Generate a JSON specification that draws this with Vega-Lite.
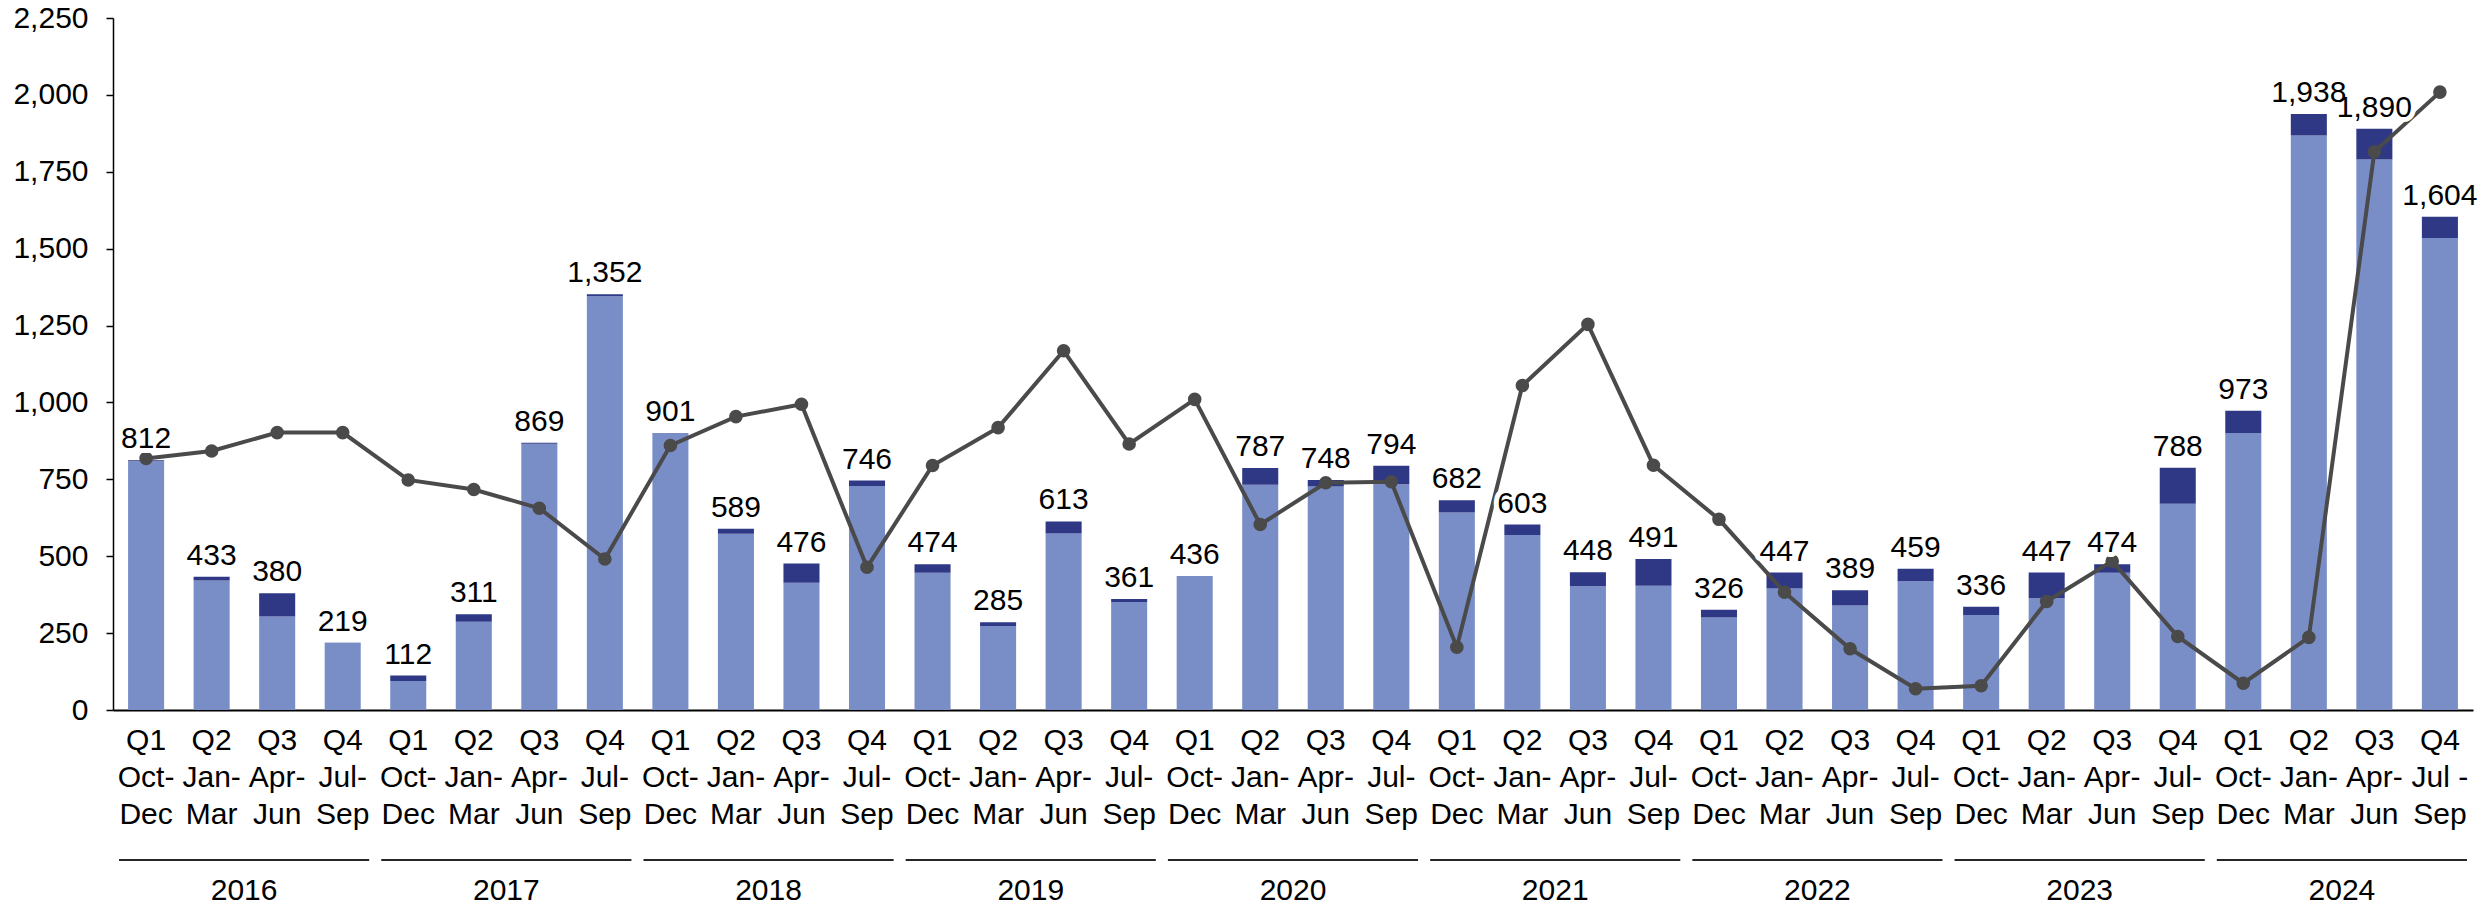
{
  "$schema": "https://vega.github.io/schema/vega-lite/v6.json",
  "padding": {"left": 12, "top": 3, "right": 5, "bottom": 0},
  "background": "white",
  "config": {"view": {"stroke": null}, "font": "Liberation Sans", "text": {"font": "Liberation Sans"}},
  "spacing": 30,
  "data": {"values": [
    {"p": "2016|Q1|Oct-|Dec", "year": "2016", "light": 809, "dark": 3, "total": 812, "line": 818},
    {"p": "2016|Q2|Jan-|Mar", "year": "2016", "light": 421, "dark": 12, "total": 433, "line": 842},
    {"p": "2016|Q3|Apr-|Jun", "year": "2016", "light": 304, "dark": 76, "total": 380, "line": 902},
    {"p": "2016|Q4|Jul-|Sep", "year": "2016", "light": 218, "dark": 1, "total": 219, "line": 902},
    {"p": "2017|Q1|Oct-|Dec", "year": "2017", "light": 94, "dark": 18, "total": 112, "line": 748},
    {"p": "2017|Q2|Jan-|Mar", "year": "2017", "light": 287, "dark": 24, "total": 311, "line": 717},
    {"p": "2017|Q3|Apr-|Jun", "year": "2017", "light": 866, "dark": 3, "total": 869, "line": 656},
    {"p": "2017|Q4|Jul-|Sep", "year": "2017", "light": 1345, "dark": 7, "total": 1352, "line": 491},
    {"p": "2018|Q1|Oct-|Dec", "year": "2018", "light": 900, "dark": 1, "total": 901, "line": 860},
    {"p": "2018|Q2|Jan-|Mar", "year": "2018", "light": 573, "dark": 16, "total": 589, "line": 954},
    {"p": "2018|Q3|Apr-|Jun", "year": "2018", "light": 414, "dark": 62, "total": 476, "line": 994},
    {"p": "2018|Q4|Jul-|Sep", "year": "2018", "light": 728, "dark": 18, "total": 746, "line": 464},
    {"p": "2019|Q1|Oct-|Dec", "year": "2019", "light": 446, "dark": 28, "total": 474, "line": 795},
    {"p": "2019|Q2|Jan-|Mar", "year": "2019", "light": 273, "dark": 12, "total": 285, "line": 918},
    {"p": "2019|Q3|Apr-|Jun", "year": "2019", "light": 574, "dark": 39, "total": 613, "line": 1168},
    {"p": "2019|Q4|Jul-|Sep", "year": "2019", "light": 351, "dark": 10, "total": 361, "line": 865},
    {"p": "2020|Q1|Oct-|Dec", "year": "2020", "light": 436, "dark": 0, "total": 436, "line": 1010},
    {"p": "2020|Q2|Jan-|Mar", "year": "2020", "light": 732, "dark": 55, "total": 787, "line": 603},
    {"p": "2020|Q3|Apr-|Jun", "year": "2020", "light": 727, "dark": 21, "total": 748, "line": 739},
    {"p": "2020|Q4|Jul-|Sep", "year": "2020", "light": 734, "dark": 60, "total": 794, "line": 742},
    {"p": "2021|Q1|Oct-|Dec", "year": "2021", "light": 642, "dark": 40, "total": 682, "line": 204},
    {"p": "2021|Q2|Jan-|Mar", "year": "2021", "light": 569, "dark": 34, "total": 603, "line": 1055},
    {"p": "2021|Q3|Apr-|Jun", "year": "2021", "light": 402, "dark": 46, "total": 448, "line": 1254},
    {"p": "2021|Q4|Jul-|Sep", "year": "2021", "light": 404, "dark": 87, "total": 491, "line": 796},
    {"p": "2022|Q1|Oct-|Dec", "year": "2022", "light": 301, "dark": 25, "total": 326, "line": 620},
    {"p": "2022|Q2|Jan-|Mar", "year": "2022", "light": 395, "dark": 52, "total": 447, "line": 383},
    {"p": "2022|Q3|Apr-|Jun", "year": "2022", "light": 340, "dark": 49, "total": 389, "line": 199},
    {"p": "2022|Q4|Jul-|Sep", "year": "2022", "light": 419, "dark": 40, "total": 459, "line": 69},
    {"p": "2023|Q1|Oct-|Dec", "year": "2023", "light": 309, "dark": 27, "total": 336, "line": 79},
    {"p": "2023|Q2|Jan-|Mar", "year": "2023", "light": 363, "dark": 84, "total": 447, "line": 353},
    {"p": "2023|Q3|Apr-|Jun", "year": "2023", "light": 446, "dark": 28, "total": 474, "line": 484},
    {"p": "2023|Q4|Jul-|Sep", "year": "2023", "light": 671, "dark": 117, "total": 788, "line": 239},
    {"p": "2024|Q1|Oct-|Dec", "year": "2024", "light": 901, "dark": 72, "total": 973, "line": 87},
    {"p": "2024|Q2|Jan-|Mar", "year": "2024", "light": 1868, "dark": 70, "total": 1938, "line": 236},
    {"p": "2024|Q3|Apr-|Jun", "year": "2024", "light": 1790, "dark": 100, "total": 1890, "line": 1815},
    {"p": "2024|Q4|Jul -|Sep", "year": "2024", "light": 1535, "dark": 69, "total": 1604, "line": 2009}
  ]},
  "vconcat": [
    {
      "width": 2360,
      "height": 692,
      "encoding": {
        "x": {
          "field": "p", "type": "nominal", "sort": null,
          "scale": {"paddingInner": 0.45, "paddingOuter": 0.23},
          "axis": {
            "title": null, "labelAngle": 0, "ticks": false,
            "domainColor": "#000000", "domainWidth": 2,
            "labelFontSize": 30, "labelLineHeight": 37, "labelPadding": 15,
            "labelColor": "#000000", "labelBaseline": "top",
            "labelExpr": "slice(split(datum.value, '|'), 1)"
          }
        }
      },
      "layer": [
        {
          "transform": [{"fold": ["light", "dark"], "as": ["k", "v"]}],
          "mark": {"type": "bar"},
          "encoding": {
            "y": {
              "field": "v", "type": "quantitative", "stack": "zero",
              "scale": {"domain": [0, 2250], "nice": false},
              "axis": {
                "title": null, "grid": false, "values": [0, 250, 500, 750, 1000, 1250, 1500, 1750, 2000, 2250],
                "format": ",.0f", "domainColor": "#000000", "domainWidth": 1.5,
                "tickColor": "#000000", "tickSize": 7, "tickWidth": 1.5,
                "labelFontSize": 30, "labelPadding": 18, "labelColor": "#000000"
              }
            },
            "color": {
              "field": "k", "type": "nominal",
              "scale": {"domain": ["light", "dark"], "range": ["#798dc7", "#2e3885"]},
              "legend": null
            },
            "order": {"field": "k", "sort": "descending"}
          }
        },
        {
          "mark": {"type": "line", "color": "#4a4a4a", "strokeWidth": 4},
          "encoding": {"y": {"field": "line", "type": "quantitative"}}
        },
        {
          "mark": {"type": "point", "filled": true, "color": "#4a4a4a", "size": 185, "opacity": 1},
          "encoding": {"y": {"field": "line", "type": "quantitative"}}
        },
        {
          "mark": {"type": "text", "baseline": "alphabetic", "dy": -12, "fontSize": 30, "color": "#ffffff", "stroke": "#ffffff", "strokeWidth": 10, "strokeJoin": "round"},
          "encoding": {
            "y": {"field": "total", "type": "quantitative"},
            "text": {"field": "total", "type": "quantitative", "format": ","}
          }
        },
        {
          "mark": {"type": "text", "baseline": "alphabetic", "dy": -12, "fontSize": 30, "color": "#000000"},
          "encoding": {
            "y": {"field": "total", "type": "quantitative"},
            "text": {"field": "total", "type": "quantitative", "format": ","}
          }
        }
      ]
    },
    {
      "width": 2360,
      "height": 2,
      "transform": [{"aggregate": [], "groupby": ["year"]}],
      "mark": {"type": "bar", "color": "#262626"},
      "encoding": {
        "x": {
          "field": "year", "type": "nominal",
          "scale": {"paddingInner": 0.046, "paddingOuter": 0.023},
          "axis": {
            "title": null, "labelAngle": 0, "ticks": false, "domain": false,
            "labelFontSize": 30, "labelPadding": 14, "labelColor": "#000000"
          }
        }
      }
    }
  ]
}
